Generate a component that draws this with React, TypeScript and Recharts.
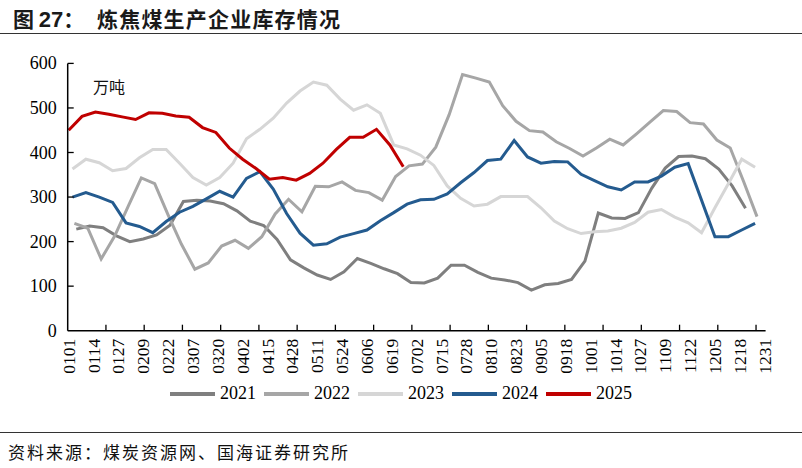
import React from 'react';
import { LineChart, Line, XAxis, YAxis } from 'recharts';

// weekly readings, 万吨
const years = ['2021', '2022', '2023', '2024', '2025'];
const colors = ['#7f7f7f', '#a6a6a6', '#d6d6d6', '#245b8f', '#c00000'];
const startDays = [4, 3, 2, 2, 0];

const s2021 = [228, 235, 231, 213, 200, 206, 215, 237, 290, 293, 291, 285, 269, 246, 236, 205, 159, 141, 125, 115, 132, 162, 151, 139, 128, 108, 107, 118, 147, 147, 131, 118, 114, 108, 91, 103, 106, 115, 156, 264, 253, 252, 265, 320, 365, 391, 392, 386, 363, 325, 275];
const s2022 = [241, 230, 161, 212, 278, 343, 330, 260, 194, 138, 152, 190, 203, 185, 211, 262, 295, 267, 324, 323, 334, 315, 310, 293, 346, 370, 374, 412, 485, 575, 567, 558, 505, 470, 449, 446, 424, 409, 392, 410, 430, 417, 442, 468, 494, 492, 467, 464, 428, 410, 335, 256];
const s2023 = [363, 385, 377, 359, 364, 388, 407, 407, 376, 344, 327, 344, 376, 431, 452, 477, 511, 538, 558, 551, 520, 495, 507, 488, 417, 408, 394, 371, 325, 297, 280, 284, 301, 301, 301, 276, 246, 229, 218, 222, 224, 230, 243, 266, 272, 255, 242, 220, 276, 330, 385, 367];
const s2024 = [300, 310, 300, 288, 242, 234, 220, 245, 266, 279, 296, 313, 300, 342, 357, 318, 263, 219, 192, 195, 210, 218, 226, 247, 265, 284, 294, 295, 307, 332, 355, 382, 385, 427, 390, 376, 380, 379, 351, 337, 323, 316, 334, 334, 347, 367, 375, null, 211, 211, 226, 241];
const s2025 = [450, 481, 491, 486, 480, 474, 489, 488, 482, 479, 456, 445, 410, 385, 364, 340, 344, 338, 353, 376, 407, 434, 434, 452, 417, 368];

const seriesValues = [s2021, s2022, s2023, s2024, s2025];

const xLabels = ['0101', '0114', '0127', '0209', '0222', '0307', '0320', '0402', '0415', '0428', '0511', '0524', '0606', '0619', '0702', '0715', '0728', '0810', '0823', '0905', '0918', '1001', '1014', '1027', '1109', '1122', '1205', '1218', '1231'];
const yTicks = [0, 100, 200, 300, 400, 500, 600];

// labels every 13 days, tick marks every 20 days (between day slots)
const labelDays = xLabels.map((_, i) => i * 13);
const markDays = Array.from({ length: 18 }, (_, i) => 19.5 + i * 20);
const allXTicks = [...labelDays, ...markDays].sort((a, b) => a - b);

const serif = '"Liberation Serif", "Times New Roman", serif';
const cjk = '"Noto Sans CJK SC", sans-serif';

const XTick = (props: any) => {
  const { x, y, payload } = props;
  const idx = labelDays.indexOf(payload.value);
  return (
    <g>
      {markDays.includes(payload.value) && (
        <line x1={x} y1={y} x2={x} y2={y - 6} stroke="#000" strokeWidth={1.3} />
      )}
      {idx >= 0 && (
        <text
          transform={`translate(${x},${y + 8}) rotate(-90)`}
          textAnchor="end"
          dominantBaseline="central"
          fontSize={17.5}
          fontFamily={serif}
          fill="#000"
        >
          {xLabels[idx]}
        </text>
      )}
    </g>
  );
};

const YTick = (props: any) => {
  const { x, y, payload } = props;
  return (
    <g>
      {payload.value > 0 && <line x1={x} y1={y} x2={x + 6} y2={y} stroke="#000" strokeWidth={1.3} />}
      <text x={x - 11} y={y} textAnchor="end" dominantBaseline="central" fontSize={18} fontFamily={serif} fill="#000">
        {payload.value}
      </text>
    </g>
  );
};

export default function App() {
  return (
    <div style={{ position: 'absolute', left: 0, top: 0, width: 802, height: 468, background: '#fff', overflow: 'hidden' }}>
      <div style={{ position: 'absolute', left: 13, top: 3, fontFamily: cjk, fontWeight: 700, fontSize: 21, color: '#1a1a1a', whiteSpace: 'nowrap' }}>
        图 <span style={{ fontFamily: '"Liberation Sans", Arial, sans-serif', fontSize: 22 }}>27</span>：
      </div>
      <div style={{ position: 'absolute', left: 97, top: 3, fontFamily: cjk, fontWeight: 700, fontSize: 21, letterSpacing: 1.2, color: '#1a1a1a', whiteSpace: 'nowrap' }}>
        炼焦煤生产企业库存情况
      </div>
      <div style={{ position: 'absolute', left: 0, top: 33, width: 802, height: 1, background: '#333' }} />

      <div style={{ position: 'absolute', left: 0, top: 0 }}>
        <LineChart width={802} height={468} margin={{ top: 63.4, right: 36.4, bottom: 87.3, left: 7.7 }}>
          <XAxis
            type="number"
            dataKey="d"
            domain={[-0.5, 364.5]}
            ticks={allXTicks}
            interval={0}
            tick={<XTick />}
            tickLine={false}
            tickSize={0}
            tickMargin={0}
            height={50}
            axisLine={{ stroke: '#000', strokeWidth: 1.5 }}
            allowDataOverflow
          />
          <YAxis
            domain={[0, 600]}
            ticks={yTicks}
            interval={0}
            tick={<YTick />}
            tickLine={false}
            tickSize={0}
            tickMargin={0}
            width={60}
            axisLine={{ stroke: '#000', strokeWidth: 1.5 }}
          />
          {seriesValues.map((vals, si) => (
            <Line
              key={years[si]}
              data={vals.map((v, i) => ({ d: startDays[si] + i * 7, v }))}
              dataKey="v"
              type="linear"
              stroke={colors[si]}
              strokeWidth={3}
              dot={false}
              connectNulls
              isAnimationActive={false}
            />
          ))}
        </LineChart>
      </div>

      <div style={{ position: 'absolute', left: 93, top: 74, fontFamily: cjk, fontSize: 16, color: '#111' }}>万吨</div>

      <div style={{ position: 'absolute', left: 0, top: 383, width: 802, display: 'flex', justifyContent: 'center', alignItems: 'center' }}>
        {years.map((y, i) => (
          <div key={y} style={{ display: 'flex', alignItems: 'center', marginRight: i < years.length - 1 ? 8 : 0 }}>
            <span style={{ display: 'inline-block', width: 45, height: 4, background: colors[i], marginRight: 5 }} />
            <span style={{ fontFamily: serif, fontSize: 18, color: '#000' }}>{y}</span>
          </div>
        ))}
      </div>

      <div style={{ position: 'absolute', left: 0, top: 432, width: 802, height: 1, background: '#333' }} />
      <div style={{ position: 'absolute', left: 8, top: 439, fontFamily: cjk, fontSize: 17, letterSpacing: 2, color: '#111', whiteSpace: 'nowrap' }}>
        资料来源：煤炭资源网、国海证券研究所
      </div>
    </div>
  );
}
